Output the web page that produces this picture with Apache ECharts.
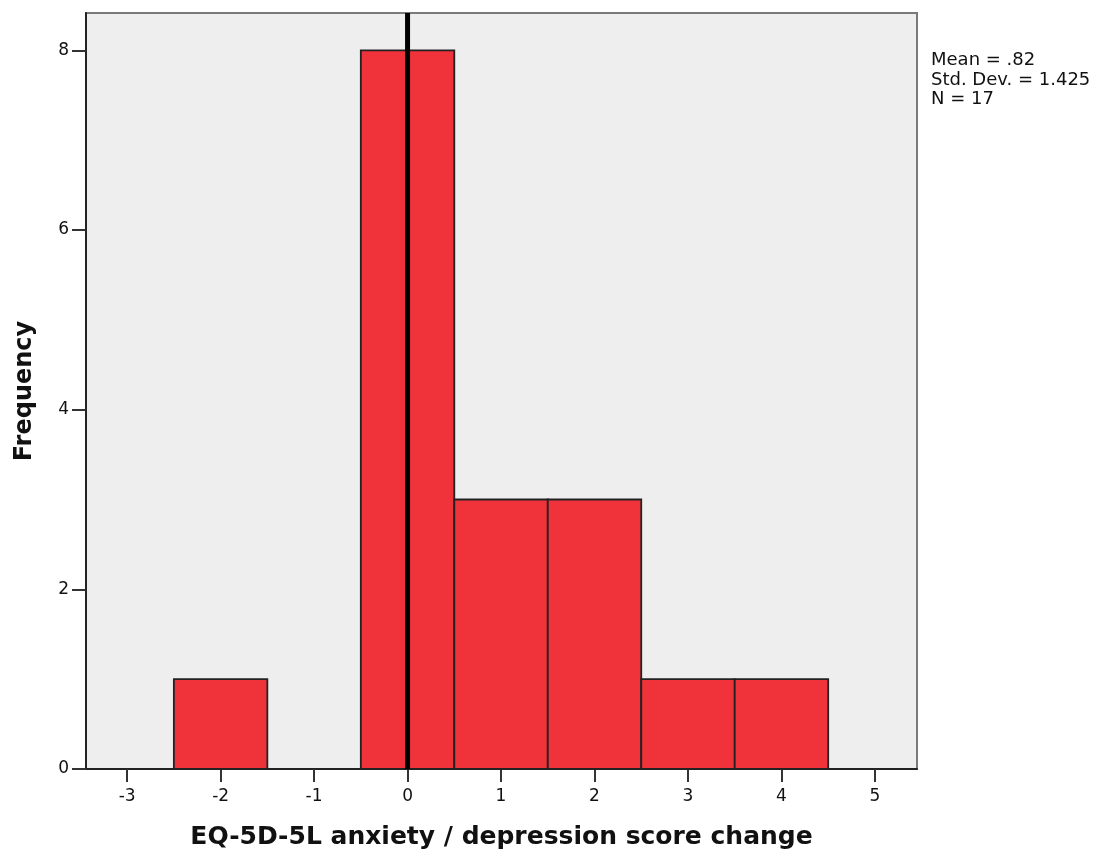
<!DOCTYPE html>
<html>
<head>
<meta charset="utf-8">
<script src="https://cdn.jsdelivr.net/npm/echarts@6/dist/echarts.min.js"></script>
<style>
  html, body { margin: 0; padding: 0; background: #ffffff; }
  #chart { width: 1102px; height: 855px; }
</style>
</head>
<body>
<div id="chart"></div>
<script>
// Histogram bins: centre of each bin (width 1) and its count
const binCenters = [-2, 0, 1, 2, 3, 4];
const binCounts = [1, 8, 3, 3, 1, 1];
const binWidth = 1;
const xTicks = [-3, -2, -1, 0, 1, 2, 3, 4, 5];
const yTicks = [0, 2, 4, 6, 8];
const referenceLine = 0;
const statsLines = ['Mean = .82', 'Std. Dev. = 1.425', 'N = 17'];
const xTitle = 'EQ-5D-5L anxiety / depression score change';
const yTitle = 'Frequency';

const chart = echarts.init(document.getElementById('chart'), null, { renderer: 'canvas' });
const fontFamily = '"DejaVu Sans", Verdana, sans-serif';

const barData = binCenters.map((c, i) => [c, binCounts[i]]);

chart.setOption({
  animation: false,
  backgroundColor: '#ffffff',
  grid: {
    left: 86, right: 185, top: 13, bottom: 86,
    show: true, backgroundColor: '#eeeeee',
    borderColor: '#7a7a7a', borderWidth: 2
  },
  xAxis: {
    type: 'value', min: -3.44, max: 5.45,
    name: xTitle, nameLocation: 'middle', nameGap: 56,
    nameTextStyle: { fontFamily, fontSize: 25, fontWeight: 'bold', color: '#111' },
    splitLine: { show: false },
    axisLine: { show: true, onZero: false, lineStyle: { color: '#222', width: 2 } },
    axisTick: { show: true, customValues: xTicks, length: 13, lineStyle: { color: '#333', width: 2 } },
    axisLabel: { customValues: xTicks, fontFamily, fontSize: 17, color: '#111', margin: 19,
      formatter: v => String(v) }
  },
  yAxis: {
    type: 'value', min: 0, max: 8.416,
    name: yTitle, nameLocation: 'middle', nameGap: 49, nameRotate: 90,
    nameTextStyle: { fontFamily, fontSize: 24, fontWeight: 'bold', color: '#111' },
    splitLine: { show: false },
    axisLine: { show: true, onZero: false, lineStyle: { color: '#222', width: 2 } },
    axisTick: { show: true, customValues: yTicks, length: 14, lineStyle: { color: '#333', width: 2 } },
    axisLabel: { customValues: yTicks, fontFamily, fontSize: 17, color: '#111', margin: 17 }
  },
  series: [
    {
      type: 'custom',
      data: barData,
      renderItem: function (params, api) {
        const c = api.value(0), n = api.value(1);
        const p0 = api.coord([c - binWidth / 2, n]);
        const p1 = api.coord([c + binWidth / 2, 0]);
        return {
          type: 'rect',
          shape: { x: p0[0], y: p0[1], width: p1[0] - p0[0], height: p1[1] - p0[1] },
          style: { fill: '#f0323a', stroke: '#222222', lineWidth: 1.8 }
        };
      },
      z: 2
    },
    {
      type: 'line',
      data: [[referenceLine, 0], [referenceLine, 8.416]],
      symbol: 'none',
      lineStyle: { color: '#000', width: 5 },
      z: 3
    }
  ],
  graphic: [{
    type: 'text',
    left: 931, top: 51,
    style: {
      text: statsLines.join('\n'),
      fontFamily, fontSize: 18, lineHeight: 19.5, fill: '#111'
    }
  }]
});
</script>
</body>
</html>
